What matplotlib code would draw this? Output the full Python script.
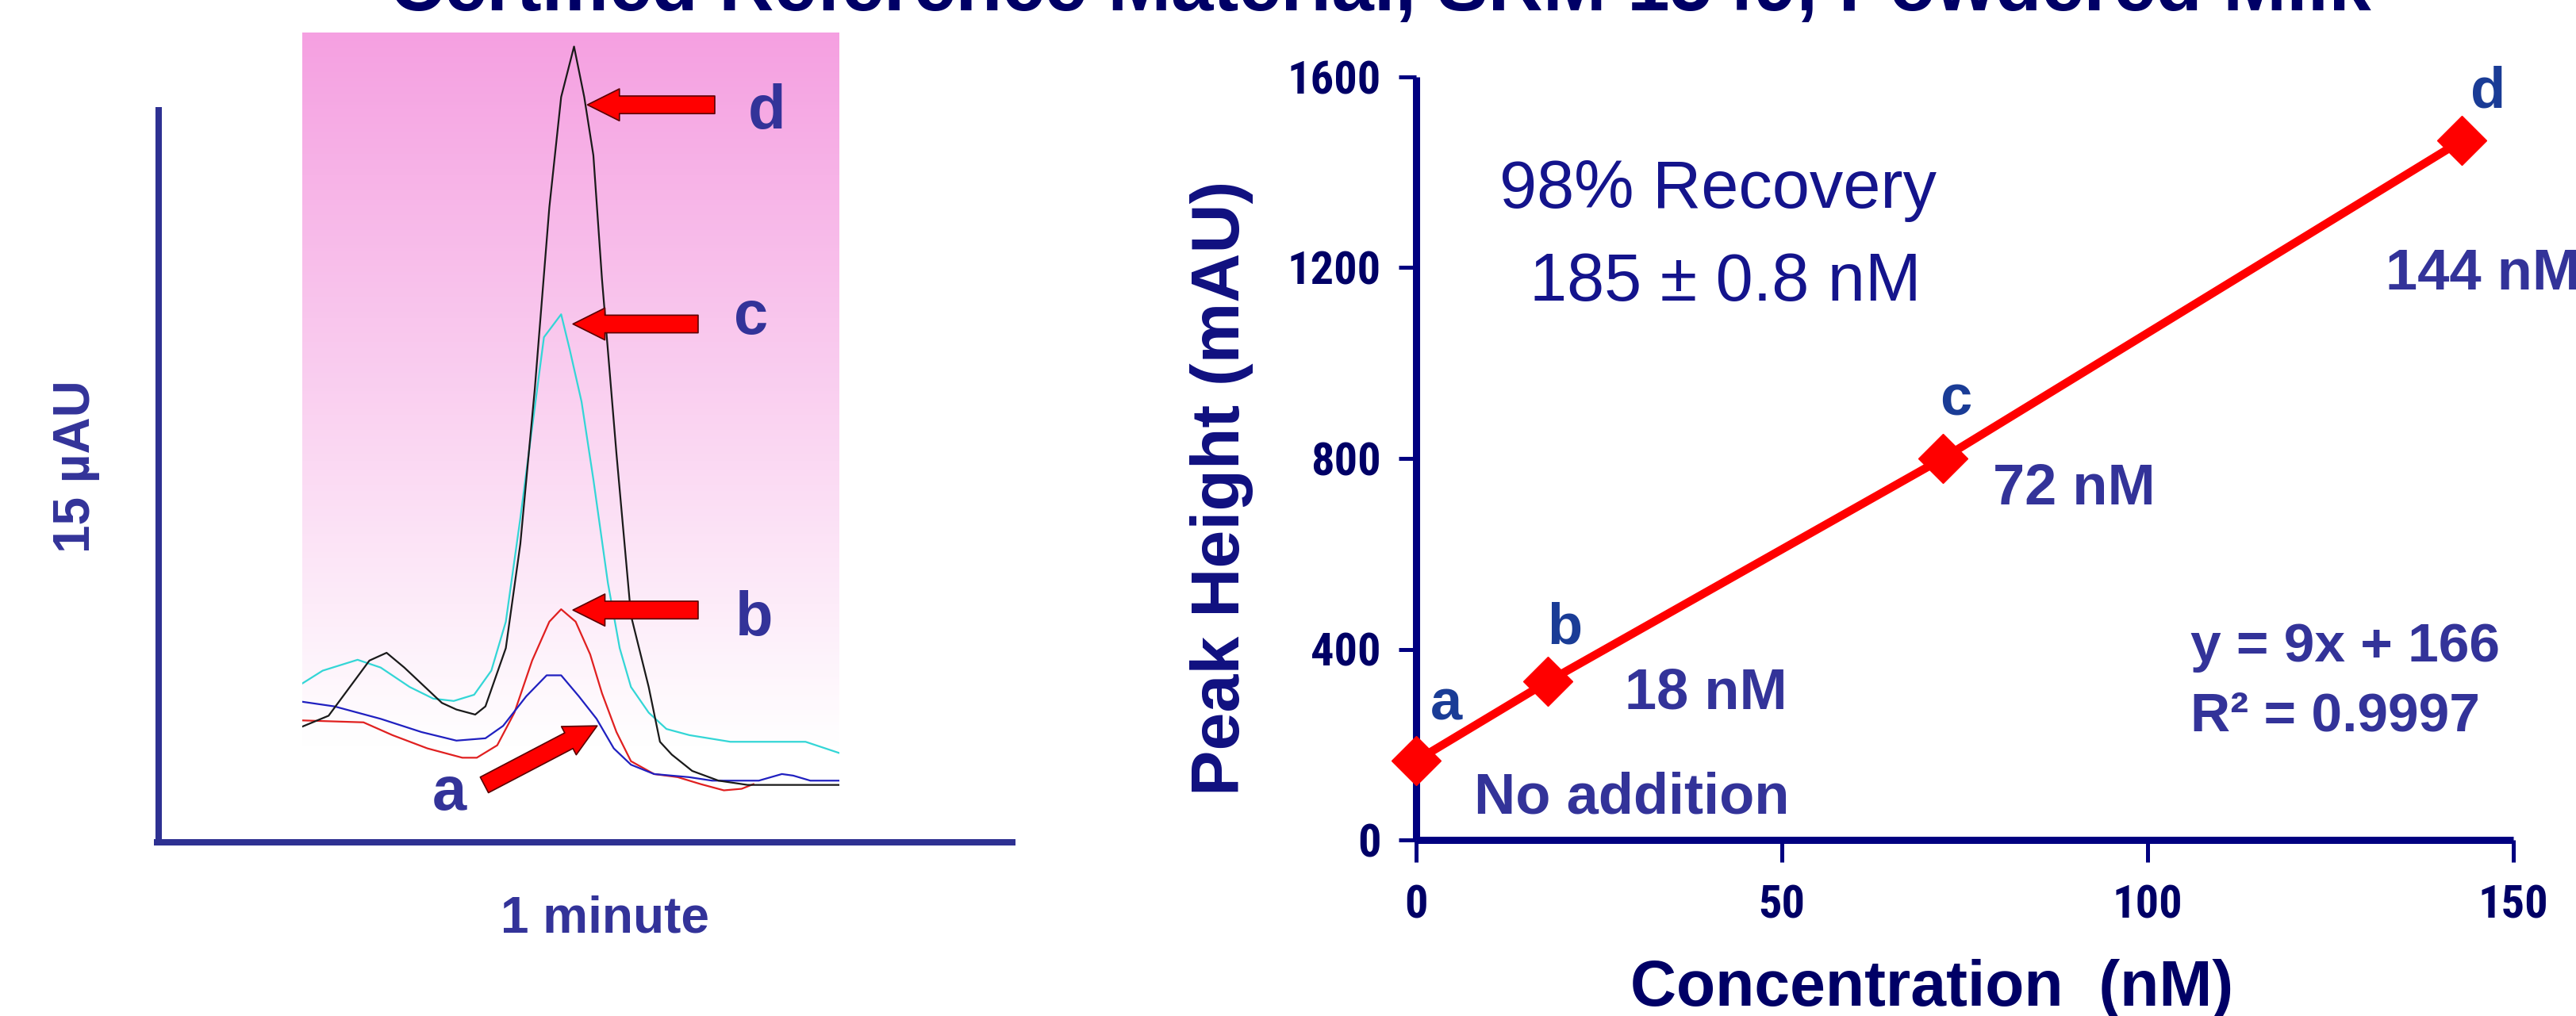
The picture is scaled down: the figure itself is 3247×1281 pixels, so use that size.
import os
import numpy as np
import matplotlib
matplotlib.use("Agg")
import matplotlib.pyplot as plt
from matplotlib import font_manager
from matplotlib.font_manager import FontProperties
from matplotlib.patches import FancyArrowPatch
from matplotlib.lines import Line2D

# ---------------- data ----------------
title_text = "Certified Reference Material, SRM 1549, Powdered Milk"

conc_nM = [0, 18, 72, 143]
peak_mAU = [166, 332, 800, 1467]
point_labels = ["a", "b", "c", "d"]
x_ticks = [0, 50, 100, 150]
y_ticks = [0, 400, 800, 1200, 1600]

# chromatogram traces (relative time 0-100, relative absorbance 0-100)
trace_d_t = [0, 4.9, 12.5, 15.7, 19.0, 26.0, 28.7, 32.2, 34.1, 37.9, 40.6, 43.3, 46.0, 48.2,
             50.6, 52.5, 54.2, 55.8, 58.5, 61.2, 64.5, 66.6, 68.8, 72.6, 77.5, 82.9, 100]
trace_d_y = [10.7, 12.1, 19.2, 20.2, 18.3, 13.75, 12.9, 12.25, 13.3, 20.8, 34.2, 54.2, 77.5, 91.7,
             98.2, 91.7, 84.2, 68.3, 45.8, 25.0, 15.8, 8.75, 7.1, 5.0, 3.75, 3.2, 3.2]

trace_c_t = [0, 3.8, 10.3, 14.6, 20.0, 24.4, 28.2, 32.0, 35.2, 37.9, 40.6, 42.8, 45.0, 48.2,
             49.8, 52.0, 54.2, 56.9, 59.1, 61.2, 64.5, 67.8, 72.1, 79.7, 93.7, 100]
trace_c_y = [16.25, 17.9, 19.3, 18.3, 15.8, 14.3, 14.0, 14.8, 17.9, 24.2, 37.5, 49.2, 60.8, 63.75,
             59.2, 52.5, 42.5, 29.2, 20.8, 15.8, 12.5, 10.4, 9.6, 8.75, 8.75, 7.3]

trace_b_t = [0, 11.4, 16.8, 23.3, 29.8, 32.5, 36.3, 39.5, 42.8, 46.0, 48.2, 50.9, 53.6, 55.8,
             58.5, 61.2, 65.5, 69.9, 74.2, 78.5, 81.8, 84.0]
trace_b_y = [11.5, 11.25, 9.6, 7.9, 6.7, 6.7, 8.3, 12.5, 19.2, 24.2, 25.8, 24.2, 20.0, 15.0,
             10.0, 6.25, 4.6, 4.2, 3.3, 2.5, 2.7, 3.3]

trace_a_t = [0, 6.0, 14.6, 22.2, 28.7, 34.1, 37.4, 41.7, 45.5, 48.2, 51.5, 54.8, 58.0, 61.2,
             65.5, 72.0, 76.3, 85.0, 89.3, 91.4, 94.6, 100]
trace_a_y = [13.9, 13.3, 11.7, 10.0, 8.9, 9.2, 10.8, 14.6, 17.3, 17.3, 14.6, 11.7, 7.9, 5.8,
             4.6, 4.2, 3.75, 3.75, 4.6, 4.4, 3.75, 3.75]

# ---------------- setup ----------------
W, H = 3248, 1281
DPI = 100
fig = plt.figure(figsize=(W / DPI, H / DPI), dpi=DPI)
fig.patch.set_facecolor("white")


def fx(px):
    return px / W


def fy(py):
    return 1 - py / H


SANS = ["Liberation Sans", "DejaVu Sans"]


def find_font(candidates):
    files = [f.fname for f in font_manager.fontManager.ttflist]
    for pat, size in candidates:
        for fn in files:
            if pat.lower() in os.path.basename(fn).lower():
                return fn, size
    return None, None


narrow_path, tick_size = find_font([
    ("LiberationSansNarrow-Bold.", 44),
    ("RobotoCondensed-Bold.", 42),
    ("Roboto_Condensed-Bold.", 42),
    ("OpenSans_Condensed-Bold.", 40),
    ("OpenSansCondensed-Bold.", 40),
    ("DejaVuSansCondensed-Bold.", 40),
])
if narrow_path:
    tick_fp = FontProperties(fname=narrow_path, size=tick_size)
else:
    tick_fp = FontProperties(family=SANS, weight="bold", size=38)

NAVY = "#000080"
SLATE = "#333399"
LETTER_BLUE = "#1A3C96"
TEXT_NAVY = "#14148C"
AXIS_LEFT = "#2E3192"

# ---------------- title (clipped at top) ----------------
fig.text(fx(1740), fy(13), title_text, ha="center", va="baseline", fontsize=69,
         fontweight="bold", color="#000066", family=SANS)

# ---------------- left panel: chromatograms ----------------
ax1 = fig.add_axes([fx(381), fy(1021), fx(1058) - fx(381), fy(41) - fy(1021)])
n = 256
t = np.linspace(0, 1, n)[:, None]  # 0 top -> 1 bottom
pink = np.array([245, 160, 225]) / 255.0
white = np.array([1.0, 1.0, 1.0])
frac = np.clip(t / 0.92, 0, 1)
grad = pink[None, :] * (1 - frac) + white[None, :] * frac
grad = grad[:, None, :]
ax1.imshow(grad, extent=[0, 100, 0, 100], aspect="auto", origin="upper", zorder=0)
ax1.set_xlim(0, 100)
ax1.set_ylim(0, 100)
ax1.axis("off")

ax1.plot(trace_c_t, trace_c_y, color="#33D6D6", lw=1.6, zorder=2)
ax1.plot(trace_d_t, trace_d_y, color="#1A1A1A", lw=1.6, zorder=3)
ax1.plot(trace_b_t, trace_b_y, color="#E02020", lw=1.6, zorder=2)
ax1.plot(trace_a_t, trace_a_y, color="#2020C0", lw=1.6, zorder=2)

arrow_style = "simple,head_length=29,head_width=29,tail_width=16"
arrows = [((76.8, 90.7), (53.1, 90.7)),
          ((73.7, 62.5), (50.4, 62.5)),
          ((73.7, 25.7), (50.4, 25.7)),
          ((33.9, 3.2), (54.9, 10.8))]
for tail, tip in arrows:
    ap = FancyArrowPatch(tail, tip, arrowstyle=arrow_style, mutation_scale=1,
                         facecolor="#FF0000", edgecolor="#5A0000", lw=1.2,
                         shrinkA=0, shrinkB=0, zorder=5, clip_on=False)
    ax1.add_patch(ap)

left_letters = [("d", 967, 162), ("c", 947, 421), ("b", 951, 801), ("a", 566, 1021)]
for s, px, py in left_letters:
    fig.text(fx(px), fy(py), s, ha="center", va="baseline", fontsize=56,
             fontweight="bold", color=SLATE, family=SANS, zorder=6)

# left axis lines
fig.add_artist(Line2D([fx(200), fx(200)], [fy(135), fy(1062)], color=AXIS_LEFT, lw=5.8,
                      solid_capstyle="butt"))
fig.add_artist(Line2D([fx(194), fx(1280)], [fy(1062), fy(1062)], color=AXIS_LEFT, lw=5.8,
                      solid_capstyle="butt"))
fig.text(fx(96), fy(588), "15 \u00b5AU", rotation=90, ha="center", va="center",
         fontsize=46, fontweight="bold", color=SLATE, family=SANS)
fig.text(fx(762), fy(1176), "1 minute", ha="center", va="baseline",
         fontsize=46, fontweight="bold", color=SLATE, family=SANS)

# ---------------- right panel: standard addition ----------------
ax2 = fig.add_axes([fx(1785), fy(1059), fx(3168) - fx(1785), fy(97) - fy(1059)])
ax2.plot(conc_nM, peak_mAU, color="#FF0000", lw=7.5, marker="D", markersize=32,
         markerfacecolor="#FF0000", markeredgecolor="#FF0000", clip_on=False, zorder=5)
ax2.set_xlim(0, 150)
ax2.set_ylim(0, 1600)
for side in ("top", "right"):
    ax2.spines[side].set_visible(False)
for side in ("left", "bottom"):
    ax2.spines[side].set_linewidth(6.5)
    ax2.spines[side].set_color(NAVY)
    ax2.spines[side].set_capstyle("butt")
ax2.set_xticks(x_ticks)
ax2.set_yticks(y_ticks)
ax2.set_xticklabels([str(v) for v in x_ticks])
ax2.set_yticklabels([str(v) for v in y_ticks])
ax2.tick_params(axis="x", direction="out", length=20, width=3.6, color=NAVY, pad=20,
                labelcolor="#000066")
ax2.tick_params(axis="y", direction="out", length=16, width=3.6, color=NAVY, pad=16,
                labelcolor="#000066")
for lab in ax2.get_xticklabels() + ax2.get_yticklabels():
    lab.set_fontproperties(tick_fp)
ax2.patch.set_alpha(0)

fig.text(fx(1540), fy(615), "Peak Height (mAU)", rotation=90, ha="center", va="center",
         fontsize=62, fontweight="bold", color="#101080", family=SANS)
fig.text(fx(2435), fy(1268), "Concentration  (nM)", ha="center", va="baseline",
         fontsize=58, fontweight="bold", color="#000066", family=SANS)

right_letters = [(1823, 907), (1972, 812), (2465, 524), (3136, 136)]
for s, (px, py) in zip(point_labels, right_letters):
    fig.text(fx(px), fy(py), s, ha="center", va="baseline", fontsize=52,
             fontweight="bold", color=LETTER_BLUE, family=SANS)

fig.text(fx(2166), fy(262), "98% Recovery", ha="center", va="baseline", fontsize=61,
         color=TEXT_NAVY, family=SANS)
fig.text(fx(2175), fy(379), "185 \u00b1 0.8 nM", ha="center", va="baseline", fontsize=61,
         color=TEXT_NAVY, family=SANS)

fig.text(fx(2057), fy(1025), "No addition", ha="center", va="baseline", fontsize=52,
         fontweight="bold", color=SLATE, family=SANS)
fig.text(fx(2150), fy(893), "18 nM", ha="center", va="baseline", fontsize=52,
         fontweight="bold", color=SLATE, family=SANS)
fig.text(fx(2614), fy(636), "72 nM", ha="center", va="baseline", fontsize=52,
         fontweight="bold", color=SLATE, family=SANS)
fig.text(fx(3007), fy(365), "144 nM", ha="left", va="baseline", fontsize=52,
         fontweight="bold", color=SLATE, family=SANS)

fig.text(fx(2761), fy(834), "y = 9x + 166", ha="left", va="baseline", fontsize=50,
         fontweight="bold", color=SLATE, family=SANS)
fig.text(fx(2761), fy(922), "R\u00b2 = 0.9997", ha="left", va="baseline", fontsize=50,
         fontweight="bold", color=SLATE, family=SANS)

fig.savefig("out.png", dpi=DPI, facecolor="white")
